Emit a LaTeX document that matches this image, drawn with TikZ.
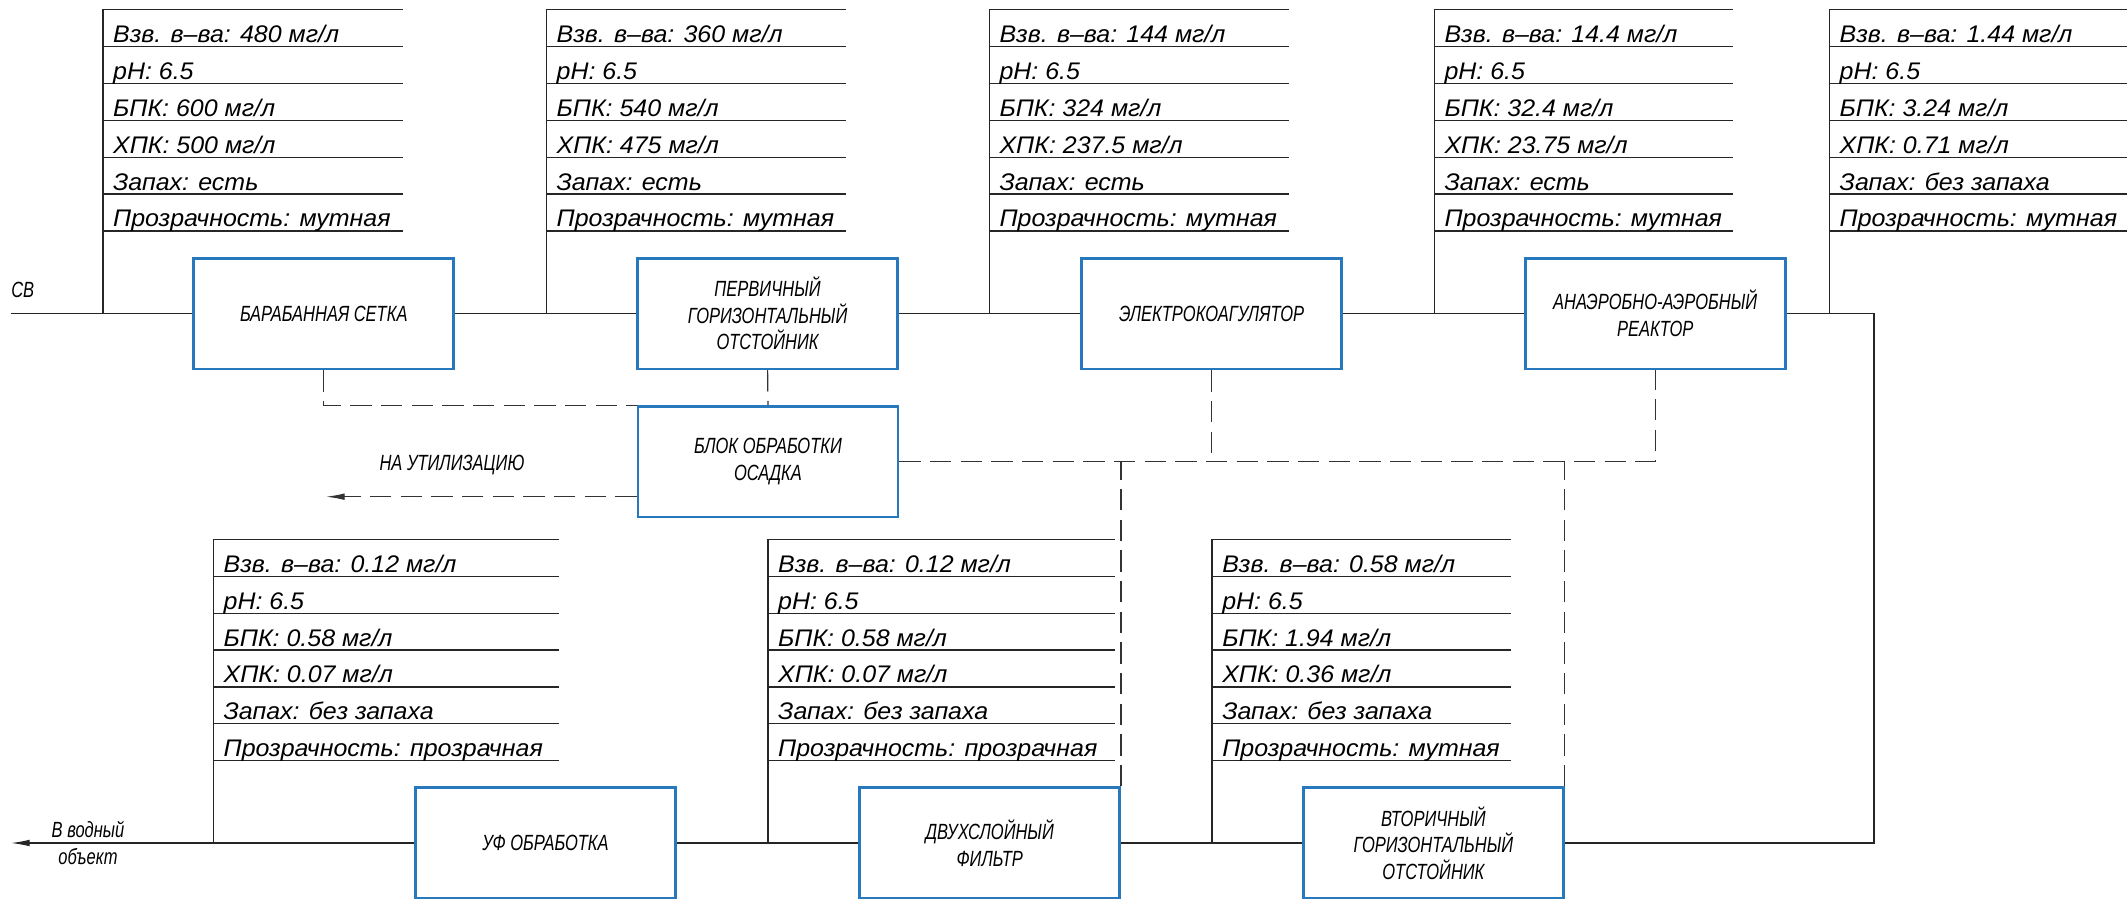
\documentclass[tikz,border=0pt]{standalone}
\usepackage{fontspec}
\usetikzlibrary{arrows.meta}
\newfontfamily\gosttab[FakeStretch=1.04]{Liberation Sans}
\newfontfamily\gostcap[FakeStretch=0.75]{Liberation Sans}
\definecolor{boxblue}{RGB}{40,120,190}
\tikzset{
  stage/.style={draw=boxblue, line width=2pt, minimum width=195pt, minimum height=83pt, inner sep=0pt, align=center, font=\gostcap\itshape\fontsize{16.5}{20}\selectfont},
  cell/.style={anchor=base west, inner sep=0pt, font=\gosttab\itshape\fontsize{18}{20}\selectfont},
  tabline/.style={line width=0.9pt, draw=black!85},
  flow/.style={line width=0.9pt, draw=black!85},
  sludge/.style={line width=0.9pt, draw=black!80, dash pattern=on 16pt off 7pt},
  note/.style={inner sep=0pt, font=\gostcap\itshape\fontsize{16.5}{20}\selectfont},
}
\begin{document}
\begin{tikzpicture}[x=0.75pt,y=0.75pt,yscale=-1,xscale=1]
\useasboundingbox (0,0) rectangle (2127,899);
% process stages
\node[stage] (baraban) at (323.8,313.5) {БАРАБАННАЯ СЕТКА};
\node[stage] (perv) at (767.6,313.5) {ПЕРВИЧНЫЙ\\ГОРИЗОНТАЛЬНЫЙ\\ОТСТОЙНИК};
\node[stage] (elko) at (1211.6,313.5) {ЭЛЕКТРОКОАГУЛЯТОР};
\node[stage] (anaer) at (1655.2,313.5) {АНАЭРОБНО-АЭРОБНЫЙ\\РЕАКТОР};
\node[stage] (osadok) at (768,461.8) {БЛОК ОБРАБОТКИ\\ОСАДКА};
\node[stage] (vtor) at (1433.4,843) {ВТОРИЧНЫЙ\\ГОРИЗОНТАЛЬНЫЙ\\ОТСТОЙНИК};
\node[stage] (filtr) at (989.7,843) {ДВУХСЛОЙНЫЙ\\ФИЛЬТР};
\node[stage] (uf) at (545.5,843) {УФ ОБРАБОТКА};
% free ends
\coordinate (sv) at (10.7,313.5);
\coordinate (rt) at (1874,313.5);
\coordinate (rb) at (1874,843);
\coordinate (vyp) at (11,843);
\coordinate (util) at (326,496.7);
% water line
\draw[flow] (sv) -- (baraban.west);
\draw[flow] (baraban.east) -- (perv.west);
\draw[flow] (perv.east) -- (elko.west);
\draw[flow] (elko.east) -- (anaer.west);
\draw[flow] (anaer.east) -- (rt) -- (rb) -- (vtor.east);
\draw[flow] (vtor.west) -- (filtr.east);
\draw[flow] (filtr.west) -- (uf.east);
\draw[flow,-{Latex[length=14pt,width=5pt]}] (uf.west) -- (vyp);
% sludge line
\draw[sludge] (baraban.south) |- (osadok.north west);
\draw[sludge] (perv.south) -- (osadok.north);
\draw[sludge] (osadok.east) -| (anaer.south);
\draw[sludge] (elko.south) -- (elko.south |- osadok.east);
\draw[sludge] (filtr.north east) -- (filtr.north east |- osadok.east);
\draw[sludge] (vtor.north east) -- (vtor.north east |- osadok.east);
\draw[sludge,-{Latex[length=14pt,width=5pt]}] (osadok.west |- util) -- (util);
\node[note,anchor=base west] (svlbl) at (11,297) {СВ};
\node[note] (utlbl) at (452,465) {НА УТИЛИЗАЦИЮ};
\node[note,align=center] (vodlbl) at (88,843) {В водный\\объект};
% table 1
\draw[tabline] (102.9,9.5) -- (102.9,313.5) (102.9,9.5) -- (402.9,9.5) (102.9,46.4) -- (402.9,46.4) (102.9,83.3) -- (402.9,83.3) (102.9,120.2) -- (402.9,120.2) (102.9,157.1) -- (402.9,157.1) (102.9,194) -- (402.9,194) (102.9,230.9) -- (402.9,230.9);
\node[cell] (t1a) at (112.9,42.4) {Взв. в–ва: 480 мг/л};
\node[cell] (t1b) at (112.9,79.3) {pH: 6.5};
\node[cell] (t1c) at (112.9,116.2) {БПК: 600 мг/л};
\node[cell] (t1d) at (112.9,153.1) {ХПК: 500 мг/л};
\node[cell] (t1e) at (112.9,190) {Запах: есть};
\node[cell] (t1f) at (112.9,226.9) {Прозрачность: мутная};
% table 2
\draw[tabline] (546.4,9.5) -- (546.4,313.5) (546.4,9.5) -- (846.4,9.5) (546.4,46.4) -- (846.4,46.4) (546.4,83.3) -- (846.4,83.3) (546.4,120.2) -- (846.4,120.2) (546.4,157.1) -- (846.4,157.1) (546.4,194) -- (846.4,194) (546.4,230.9) -- (846.4,230.9);
\node[cell] (t2a) at (556.4,42.4) {Взв. в–ва: 360 мг/л};
\node[cell] (t2b) at (556.4,79.3) {pH: 6.5};
\node[cell] (t2c) at (556.4,116.2) {БПК: 540 мг/л};
\node[cell] (t2d) at (556.4,153.1) {ХПК: 475 мг/л};
\node[cell] (t2e) at (556.4,190) {Запах: есть};
\node[cell] (t2f) at (556.4,226.9) {Прозрачность: мутная};
% table 3
\draw[tabline] (989.3,9.5) -- (989.3,313.5) (989.3,9.5) -- (1289.3,9.5) (989.3,46.4) -- (1289.3,46.4) (989.3,83.3) -- (1289.3,83.3) (989.3,120.2) -- (1289.3,120.2) (989.3,157.1) -- (1289.3,157.1) (989.3,194) -- (1289.3,194) (989.3,230.9) -- (1289.3,230.9);
\node[cell] (t3a) at (999.3,42.4) {Взв. в–ва: 144 мг/л};
\node[cell] (t3b) at (999.3,79.3) {pH: 6.5};
\node[cell] (t3c) at (999.3,116.2) {БПК: 324 мг/л};
\node[cell] (t3d) at (999.3,153.1) {ХПК: 237.5 мг/л};
\node[cell] (t3e) at (999.3,190) {Запах: есть};
\node[cell] (t3f) at (999.3,226.9) {Прозрачность: мутная};
% table 4
\draw[tabline] (1434.3,9.5) -- (1434.3,313.5) (1434.3,9.5) -- (1732.5,9.5) (1434.3,46.4) -- (1732.5,46.4) (1434.3,83.3) -- (1732.5,83.3) (1434.3,120.2) -- (1732.5,120.2) (1434.3,157.1) -- (1732.5,157.1) (1434.3,194) -- (1732.5,194) (1434.3,230.9) -- (1732.5,230.9);
\node[cell] (t4a) at (1444.3,42.4) {Взв. в–ва: 14.4 мг/л};
\node[cell] (t4b) at (1444.3,79.3) {pH: 6.5};
\node[cell] (t4c) at (1444.3,116.2) {БПК: 32.4 мг/л};
\node[cell] (t4d) at (1444.3,153.1) {ХПК: 23.75 мг/л};
\node[cell] (t4e) at (1444.3,190) {Запах: есть};
\node[cell] (t4f) at (1444.3,226.9) {Прозрачность: мутная};
% table 5
\draw[tabline] (1829.4,9.5) -- (1829.4,313.5) (1829.4,9.5) -- (2127,9.5) (1829.4,46.4) -- (2127,46.4) (1829.4,83.3) -- (2127,83.3) (1829.4,120.2) -- (2127,120.2) (1829.4,157.1) -- (2127,157.1) (1829.4,194) -- (2127,194) (1829.4,230.9) -- (2127,230.9);
\node[cell] (t5a) at (1839.4,42.4) {Взв. в–ва: 1.44 мг/л};
\node[cell] (t5b) at (1839.4,79.3) {pH: 6.5};
\node[cell] (t5c) at (1839.4,116.2) {БПК: 3.24 мг/л};
\node[cell] (t5d) at (1839.4,153.1) {ХПК: 0.71 мг/л};
\node[cell] (t5e) at (1839.4,190) {Запах: без запаха};
\node[cell] (t5f) at (1839.4,226.9) {Прозрачность: мутная};
% table 6 (after UV)
\draw[tabline] (213.4,539.3) -- (213.4,843) (213.4,539.3) -- (559.4,539.3) (213.4,576.2) -- (559.4,576.2) (213.4,613.1) -- (559.4,613.1) (213.4,650) -- (559.4,650) (213.4,686.9) -- (559.4,686.9) (213.4,723.8) -- (559.4,723.8) (213.4,760.7) -- (559.4,760.7);
\node[cell] (t6a) at (223.4,572.2) {Взв. в–ва: 0.12 мг/л};
\node[cell] (t6b) at (223.4,609.1) {pH: 6.5};
\node[cell] (t6c) at (223.4,646) {БПК: 0.58 мг/л};
\node[cell] (t6d) at (223.4,682.9) {ХПК: 0.07 мг/л};
\node[cell] (t6e) at (223.4,719.8) {Запах: без запаха};
\node[cell] (t6f) at (223.4,756.7) {Прозрачность: прозрачная};
% table 7 (after filter)
\draw[tabline] (767.9,539.3) -- (767.9,843) (767.9,539.3) -- (1115,539.3) (767.9,576.2) -- (1115,576.2) (767.9,613.1) -- (1115,613.1) (767.9,650) -- (1115,650) (767.9,686.9) -- (1115,686.9) (767.9,723.8) -- (1115,723.8) (767.9,760.7) -- (1115,760.7);
\node[cell] (t7a) at (777.9,572.2) {Взв. в–ва: 0.12 мг/л};
\node[cell] (t7b) at (777.9,609.1) {pH: 6.5};
\node[cell] (t7c) at (777.9,646) {БПК: 0.58 мг/л};
\node[cell] (t7d) at (777.9,682.9) {ХПК: 0.07 мг/л};
\node[cell] (t7e) at (777.9,719.8) {Запах: без запаха};
\node[cell] (t7f) at (777.9,756.7) {Прозрачность: прозрачная};
% table 8 (after secondary settler)
\draw[tabline] (1212,539.3) -- (1212,843) (1212,539.3) -- (1511,539.3) (1212,576.2) -- (1511,576.2) (1212,613.1) -- (1511,613.1) (1212,650) -- (1511,650) (1212,686.9) -- (1511,686.9) (1212,723.8) -- (1511,723.8) (1212,760.7) -- (1511,760.7);
\node[cell] (t8a) at (1222,572.2) {Взв. в–ва: 0.58 мг/л};
\node[cell] (t8b) at (1222,609.1) {pH: 6.5};
\node[cell] (t8c) at (1222,646) {БПК: 1.94 мг/л};
\node[cell] (t8d) at (1222,682.9) {ХПК: 0.36 мг/л};
\node[cell] (t8e) at (1222,719.8) {Запах: без запаха};
\node[cell] (t8f) at (1222,756.7) {Прозрачность: мутная};
\end{tikzpicture}
\end{document}
